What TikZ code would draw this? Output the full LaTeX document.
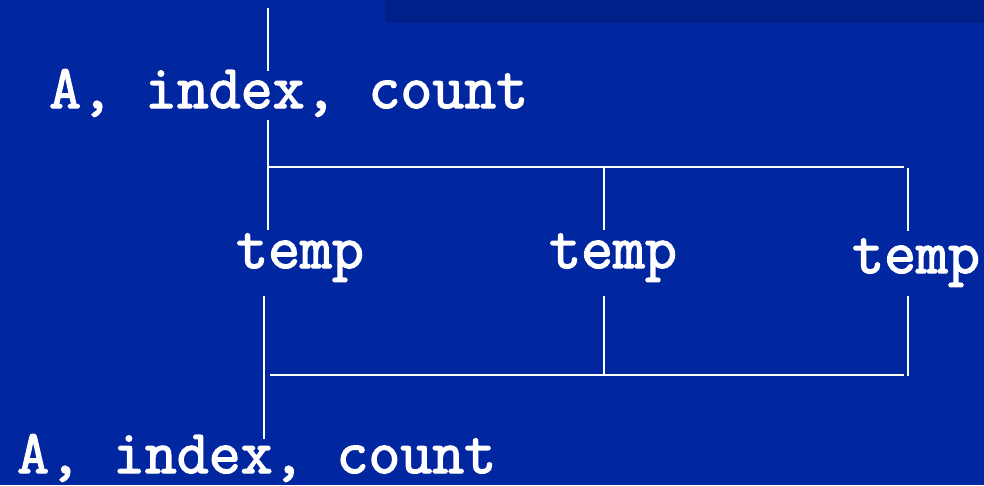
\documentclass[tikz,border=0pt]{standalone}
\usepackage{fontspec}
\newfontfamily\codefont{Latin Modern Mono}[FakeBold=2.2]
\definecolor{slide}{RGB}{0,38,160}
\definecolor{band}{RGB}{0,31,137}
\usetikzlibrary{positioning}
\tikzset{
  wire/.style={draw=white, line width=2pt},
  code/.style={text=white, font=\codefont\bfseries\fontsize{62}{66}\selectfont,
               inner sep=0pt, anchor=base west},
}

\begin{document}
\begin{tikzpicture}[x=1pt,y=-1pt]
    \fill[slide] (0,0) rectangle (984,485);
    \fill[band] (385,0) rectangle (984,23);
    \useasboundingbox (0,0) rectangle (984,485);
    \node[code] (argsin)  at (49,108) {A, index, count};
    \node[code] (argsout) at (17,473) {A, index, count};
    \foreach \n/\x/\y in {tmpa/236/268, tmpb/549/268, tmpc/852/273}
      \node[code] (\n) at (\x,\y) {temp};
    \coordinate (callin)  at (268,8);
    \coordinate (callend) at (268,71);
    \coordinate (forkin)  at (268,120);
    \coordinate (forka)   at (268,230);
    \coordinate (split)   at (268,167);
    \coordinate (splitb)  at (604,167);
    \coordinate (splitc)  at (904,167);
    \coordinate (forkb)   at (604,230);
    \coordinate (topc)    at (908,168);
    \coordinate (forkc)   at (908,231);
    \coordinate (joina)   at (264,296);
    \coordinate (retout)  at (264,439);
    \coordinate (merge)   at (270,375);
    \coordinate (mergec)  at (904,375);
    \coordinate (joinb)   at (604,296);
    \coordinate (mergeb)  at (604,375);
    \coordinate (joinc)   at (908,296);
    \coordinate (endc)    at (908,376);
    \draw[wire] (callin) -- (callend);
    \draw[wire] (forkin) -- (forka);
    \draw[wire] (split) -- (splitc);
    \draw[wire] (splitb) -- (forkb);
    \draw[wire] (topc) -- (forkc);
    \draw[wire] (joina) -- (retout);
    \draw[wire] (merge) -- (mergec);
    \draw[wire] (joinb) -- (mergeb);
    \draw[wire] (joinc) -- (endc);
\end{tikzpicture}
\end{document}
